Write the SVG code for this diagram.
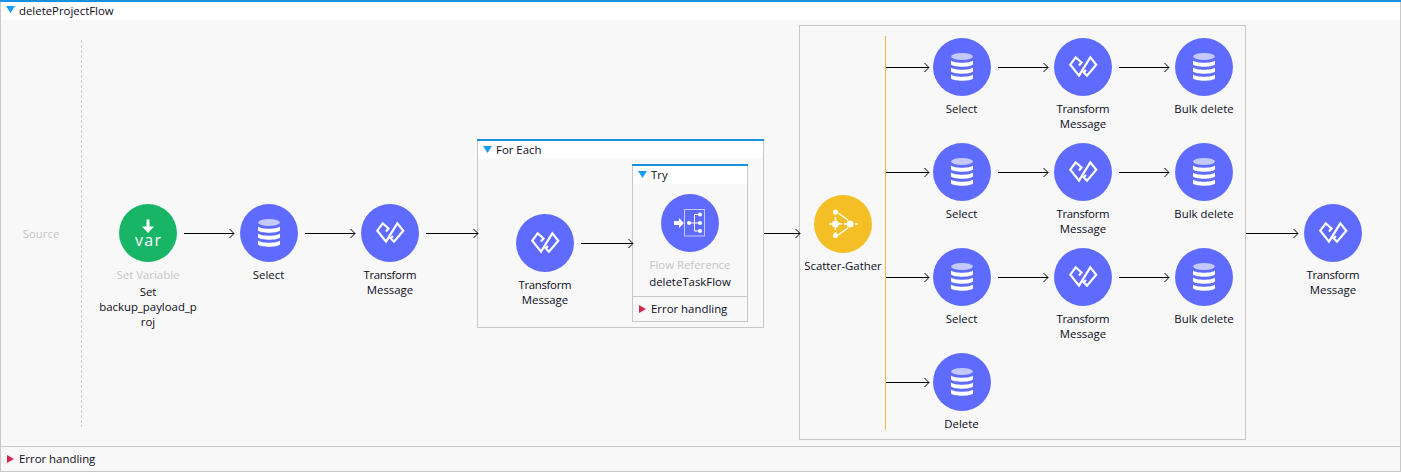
<svg xmlns="http://www.w3.org/2000/svg" width="1401" height="472" viewBox="0 0 1401 472">
<style>
text{font-family:"Open Sans","Noto Sans","Liberation Sans",sans-serif;font-size:11.400px;fill:#0c0c1c}
.c{text-anchor:middle}
.g{fill:#c6c6c6}
text.var{font-size:16px;font-weight:500;fill:#fff;letter-spacing:1.300px}
.frame{fill:#f8f8f8;stroke:#c8c8c8;stroke-width:1}
.wire{fill:none;stroke:#000;stroke-width:1;marker-end:url(#arrow)}
.blue{fill:#5f6bff}
</style>
<defs>
<marker id="arrow" markerUnits="userSpaceOnUse" markerWidth="10" markerHeight="12" refX="8.5" refY="6" orient="auto">
<path d="M4 1.500L8.500 6L4 10.500" fill="none" stroke="#000" stroke-width="1"/>
</marker>
<g id="db">
<circle r="29" class="blue"/>
<ellipse cx="0" cy="-10.500" rx="11" ry="3.500" fill="#c3c8ff"/>
<path d="M-11-6.500C-8-3.500 8-3.500 11-6.500V-2.500C8 .5-8 .5-11-2.500Z" fill="#fff"/>
<path d="M-11 .5C-8 3.500 8 3.500 11 .5V4.500C8 7.500-8 7.500-11 4.500Z" fill="#fff"/>
<path d="M-11 7.500C-8 10.500 8 10.500 11 7.500V11.500C8 14.500-8 14.500-11 11.500Z" fill="#fff"/>
</g>
<g id="tm">
<circle r="29" class="blue"/>
<path d="M-4-1.500L-1.500-4.500L-7.300-9.700L-12.700-2.300L-4 8.700L7.300-9.700L13.300-2.300L4 8.700L.7 5.200L3 3" fill="none" stroke="#fff" stroke-width="2.200"/>
</g>
</defs>
<rect x="0" y="0" width="1401" height="472" fill="#f8f8f8"/>
<rect x="0.500" y="1" width="1400" height="470.500" fill="none" stroke="#c8c8c8"/>
<rect x="1" y="2" width="1399" height="18" fill="#fff"/>
<rect x="0" y="0" width="1401" height="2" fill="#1a8fe0"/>
<path d="M6 6h9l-4.500 7z" fill="#1a9bf0"/>
<text x="19" y="15">deleteProjectFlow</text>
<line x1="81.500" y1="40" x2="81.500" y2="427" stroke="#ccc" stroke-dasharray="3 2"/>
<text class="c g" x="41" y="238">Source</text>
<line x1="1" y1="446.500" x2="1400" y2="446.500" stroke="#c8c8c8"/>
<path d="M7 455v8l7-4z" fill="#d4264f"/>
<text x="19" y="463">Error handling</text>

<g id="foreach">
<rect class="frame" x="477.500" y="139.500" width="286" height="188"/>
<rect x="478" y="141" width="285" height="18" fill="#fff"/>
<rect x="477" y="139" width="287" height="2" fill="#1a8fe0"/>
<path d="M483 146h9l-4.500 7z" fill="#1a9bf0"/>
<text x="496" y="154">For Each</text>
</g>
<g id="try">
<rect class="frame" x="632.500" y="164.500" width="115" height="157"/>
<rect x="633" y="166" width="114" height="18" fill="#fff"/>
<rect x="632" y="164" width="116" height="2" fill="#1a8fe0"/>
<path d="M638 171h9l-4.500 7z" fill="#1a9bf0"/>
<text x="651" y="179">Try</text>
<line x1="633" y1="296.500" x2="747" y2="296.500" stroke="#c8c8c8"/>
<path d="M639 305v8l7-4z" fill="#d4264f"/>
<text x="651" y="313">Error handling</text>
</g>
<g id="scatter-scope">
<rect class="frame" x="799.500" y="25.500" width="446" height="414"/>
<line x1="885.500" y1="36" x2="885.500" y2="430" stroke="#e8b93a"/>
</g>

<g id="connectors">
<path class="wire" d="M184 233.500H234"/>
<path class="wire" d="M305 233.500H355"/>
<path class="wire" d="M426 233.500H478"/>
<path class="wire" d="M581 243.500H633"/>
<path class="wire" d="M764 233.500H800"/>
<path class="wire" d="M886 67.500H929"/>
<path class="wire" d="M886 172.500H929"/>
<path class="wire" d="M886 277.500H929"/>
<path class="wire" d="M886 382.500H929"/>
<path class="wire" d="M998 67.500H1048"/>
<path class="wire" d="M998 172.500H1048"/>
<path class="wire" d="M998 277.500H1048"/>
<path class="wire" d="M1119 67.500H1169"/>
<path class="wire" d="M1119 172.500H1169"/>
<path class="wire" d="M1119 277.500H1169"/>
<path class="wire" d="M1246 233.500H1298"/>
</g>

<g id="set-variable">
<circle cx="148" cy="233" r="29" fill="#19b566"/>
<path d="M146.500 219.500h3v7h4.500l-6 6.500l-6-6.500h4.500z" fill="#fff"/>
<text class="c var" x="148.600" y="245.500">var</text>
<text class="c g" x="148" y="279">Set Variable</text>
<text class="c" x="148" y="296">Set</text>
<text class="c" x="148" y="311">backup_payload_p</text>
<text class="c" x="148" y="326">roj</text>
</g>
<g id="select-1"><use href="#db" x="269" y="233"/><text class="c" x="268.500" y="279">Select</text></g>
<g id="transform-1"><use href="#tm" x="390" y="233"/><text class="c" x="390" y="279" textLength="53">Transform</text><text class="c" x="390" y="294">Message</text></g>
<g id="transform-2"><use href="#tm" x="545" y="243"/><text class="c" x="545" y="289" textLength="53">Transform</text><text class="c" x="545" y="304">Message</text></g>
<g id="flow-reference">
<circle cx="690" cy="223" r="29" class="blue"/>
<path d="M674 221h5v-3l5 5l-5 5v-3h-5z" fill="#fff"/>
<rect x="684.500" y="209.500" width="20" height="26.500" fill="none" stroke="#c3c8ff"/>
<path d="M689 223H694.500M699 214.500H694.500V231H699M694.500 223H699" fill="none" stroke="#fff"/>
<g fill="#fff"><circle cx="689" cy="223" r="2"/><circle cx="700" cy="214.500" r="2"/><circle cx="700" cy="223" r="2"/><circle cx="700" cy="231" r="2"/></g>
<text class="c g" x="690" y="269">Flow Reference</text>
<text class="c" x="690" y="286">deleteTaskFlow</text>
</g>
<g id="scatter-gather">
<circle cx="843" cy="224" r="29" fill="#f3bf24"/>
<g stroke="#fff" stroke-width="1.500" fill="none"><path d="M829 224h21M855 224h5M835.500 212L835.500 236" stroke-dasharray="3 2"/><path d="M838 213L848 220M838 235L848 228"/></g>
<g fill="#fff"><circle cx="835.500" cy="212" r="2.500"/><circle cx="835.500" cy="224" r="3.500"/><circle cx="835.500" cy="235.500" r="2.500"/><circle cx="850" cy="224" r="3.500"/></g>
<text class="c" x="843" y="270">Scatter-Gather</text>
</g>

<g id="select-2"><use href="#db" x="962" y="67"/><text class="c" x="961.500" y="113">Select</text></g>
<g id="transform-3"><use href="#tm" x="1083" y="67"/><text class="c" x="1083" y="113" textLength="53">Transform</text><text class="c" x="1083" y="128">Message</text></g>
<g id="bulk-1"><use href="#db" x="1204" y="67"/><text class="c" x="1204" y="113">Bulk delete</text></g>
<g id="select-3"><use href="#db" x="962" y="172"/><text class="c" x="961.500" y="218">Select</text></g>
<g id="transform-4"><use href="#tm" x="1083" y="172"/><text class="c" x="1083" y="218" textLength="53">Transform</text><text class="c" x="1083" y="233">Message</text></g>
<g id="bulk-2"><use href="#db" x="1204" y="172"/><text class="c" x="1204" y="218">Bulk delete</text></g>
<g id="select-4"><use href="#db" x="962" y="277"/><text class="c" x="961.500" y="323">Select</text></g>
<g id="transform-5"><use href="#tm" x="1083" y="277"/><text class="c" x="1083" y="323" textLength="53">Transform</text><text class="c" x="1083" y="338">Message</text></g>
<g id="bulk-3"><use href="#db" x="1204" y="277"/><text class="c" x="1204" y="323">Bulk delete</text></g>
<g id="delete"><use href="#db" x="962" y="382"/><text class="c" x="961.500" y="428">Delete</text></g>
<g id="transform-6"><use href="#tm" x="1333" y="233"/><text class="c" x="1333" y="279" textLength="53">Transform</text><text class="c" x="1333" y="294">Message</text></g>
</svg>
